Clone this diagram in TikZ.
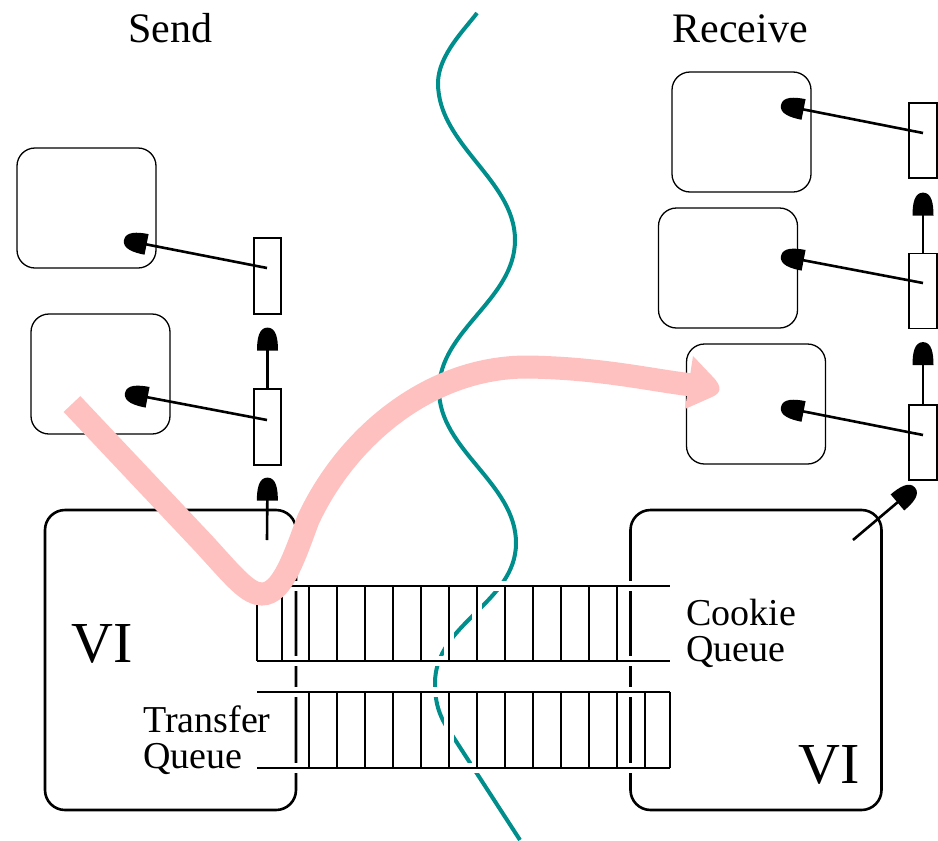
\documentclass[tikz,border=0pt]{standalone}
\usepackage{fontspec}
\setmainfont{Liberation Serif}
\usetikzlibrary{arrows.meta,calc}
\definecolor{wavecol}{RGB}{0,142,140}
\definecolor{flowpink}{RGB}{255,192,192}

% a filled arrow head with a rounded nose and a flat back
\pgfdeclarearrow{
  name = Bullet,
  defaults = {length = 17pt, width = 15pt},
  parameters = {\the\pgfarrowlength,\the\pgfarrowwidth},
  setup code = {
    \pgfarrowssettipend{0pt}
    \pgfarrowssetbackend{-\pgfarrowlength}
    \pgfarrowssetlineend{-0.5\pgfarrowlength}
    \pgfarrowshullpoint{0pt}{0pt}
    \pgfarrowsupperhullpoint{-\pgfarrowlength}{0.5\pgfarrowwidth}
    \pgfarrowssavethe\pgfarrowlength
    \pgfarrowssavethe\pgfarrowwidth
  },
  drawing code = {
    \pgfpathmoveto{\pgfqpoint{-\pgfarrowlength}{0.5\pgfarrowwidth}}
    \pgfpathcurveto{\pgfqpoint{-0.5\pgfarrowlength}{0.5\pgfarrowwidth}}%
      {\pgfqpoint{0pt}{0.42\pgfarrowwidth}}{\pgfqpoint{0pt}{0pt}}
    \pgfpathcurveto{\pgfqpoint{0pt}{-0.42\pgfarrowwidth}}%
      {\pgfqpoint{-0.5\pgfarrowlength}{-0.5\pgfarrowwidth}}%
      {\pgfqpoint{-\pgfarrowlength}{-0.5\pgfarrowwidth}}
    \pgfpathclose
    \pgfusepathqfill
  }
}

\begin{document}
\begin{tikzpicture}[x=1pt,y=-1pt,
  bufbox/.style={draw, line width=1.3pt, rounded corners=18pt,
    minimum width=139pt, minimum height=120pt, inner sep=0pt},
  descbox/.style={draw, line width=1.2pt, minimum width=27pt,
    minimum height=76pt, inner sep=0pt},
  vibox/.style={draw, line width=2.6pt, rounded corners=20pt,
    minimum width=251pt, minimum height=300pt, inner sep=0pt},
  ptr/.style={line width=2.6pt, -{Bullet[length=23pt,width=21pt]}},
  qhalo/.style={white, line width=10pt},
  qline/.style={black, line width=1.2pt},
  bigtitle/.style={font=\fontsize{42}{48}\selectfont, anchor=base},
  vilabel/.style={font=\fontsize{58}{62}\selectfont, anchor=base},
  qlabel/.style={font=\fontsize{38}{36}\selectfont, anchor=base west,
    align=left, inner sep=0pt}]
\useasboundingbox (0,0) rectangle (938,841);

% network boundary
\draw[wavecol, line width=4pt] (477,13)
  .. controls (466,28) and (438,55) .. (438,83)
  .. controls (438,145) and (515,180) .. (515,240)
  .. controls (515,300) and (439,330) .. (439,390)
  .. controls (439,450) and (516,483) .. (516,543)
  .. controls (516,603) and (435,623) .. (435,683)
  .. controls (435,705) and (440,718) .. (452,735)
  -- (520,840);

% the two VI endpoints
\node[vibox] (sendvi) at (170.5,660) {};
\node[vibox] (recvvi) at (756,660) {};

% cookie queue (upper) and transfer queue (lower)
\foreach \q in {586,661,692,768}
  \draw[qhalo] (257,\q) -- (670,\q);
\foreach \c in {257,282,309,337,365,393,421,449,477,505,533,561,589,617}
  \draw[qhalo] (\c,586) -- (\c,661);
\foreach \c in {309,337,365,393,421,449,477,505,533,561,589,617,645,670}
  \draw[qhalo] (\c,692) -- (\c,768);
\foreach \q in {586,661,692,768}
  \draw[qline] (257,\q) -- (670,\q);
\foreach \c in {257,282,309,337,365,393,421,449,477,505,533,561,589,617}
  \draw[qline] (\c,586) -- (\c,661);
\foreach \c in {309,337,365,393,421,449,477,505,533,561,589,617,645,670}
  \draw[qline] (\c,692) -- (\c,768);

% send side buffers and descriptors
\node[bufbox] (sbuf1) at (86.5,208) {};
\node[bufbox] (sbuf2) at (100.5,374) {};
\node[descbox] (sdesc1) at (267.5,276) {};
\node[descbox] (sdesc2) at (267.5,427) {};

% receive side buffers and descriptors
\node[bufbox] (rbuf1) at (741.5,132) {};
\node[bufbox] (rbuf2) at (728,268) {};
\node[bufbox] (rbuf3) at (756,404) {};
\node[descbox, minimum width=28pt, minimum height=75pt] (rdesc1) at (923,140.5) {};
\node[descbox, minimum width=28pt, minimum height=75pt] (rdesc2) at (923,291) {};
\node[descbox, minimum width=28pt, minimum height=75pt] (rdesc3) at (923,442.5) {};

% pointer end points
\coordinate (sd1p) at (267,268);
\coordinate (sd2p) at (267,420);
\coordinate (sb1p) at (124,240);
\coordinate (sb2p) at (125,393);
\coordinate (svip) at (267,540);
\coordinate (rd1p) at (923,133);
\coordinate (rd2p) at (923,283);
\coordinate (rd3p) at (923,435);
\coordinate (rb1p) at (781,105);
\coordinate (rb2p) at (781,256);
\coordinate (rb3p) at (781,407);
\coordinate (rvip) at (853,540);

% descriptor to buffer pointers
\draw[ptr] (sd1p) -- (sb1p);
\draw[ptr] (sd2p) -- (sb2p);
\draw[ptr] (rd1p) -- (rb1p);
\draw[ptr] (rd2p) -- (rb2p);
\draw[ptr] (rd3p) -- (rb3p);

% descriptor chains
\draw[ptr] (svip) -- ($(sdesc2.south)+(0,12)$);
\draw[ptr] (sdesc2.north) -- ($(sdesc1.south)+(0,13)$);
\draw[ptr] (rdesc3.north) -- ($(rdesc2.south)+(0,13)$);
\draw[ptr] (rdesc2.north) -- ($(rdesc1.south)+(0,14)$);
\draw[ptr] (rvip) -- ($(rdesc3.south)+(-8,7)$);

% labels
\node[bigtitle] (sendlbl) at (170,42) {Send};
\node[bigtitle] (recvlbl) at (740,42) {Receive};
\node[vilabel] (silbl) at (102,662) {VI};
\node[vilabel] (rilbl) at (829,783) {VI};
\node[qlabel] (cookielbl) at (686,661) {Cookie\\Queue};
\node[qlabel] (transferlbl) at (143,768) {Transfer\\Queue};

% data flow from send buffer to receive buffer
\draw[flowpink, line width=23pt] (72,404) -- (205,545)
  .. controls (235,578) and (248,594) .. (262,594)
  .. controls (282,594) and (294,558) .. (308,520)
  .. controls (347,436) and (430,367) .. (527,367)
  .. controls (600,368) and (650,380) .. (692,385);
\fill[flowpink] (693,356) -- (712,376)
  .. controls (723,387) and (721,393) .. (712,397)
  -- (685,409) -- cycle;
\end{tikzpicture}
\end{document}
